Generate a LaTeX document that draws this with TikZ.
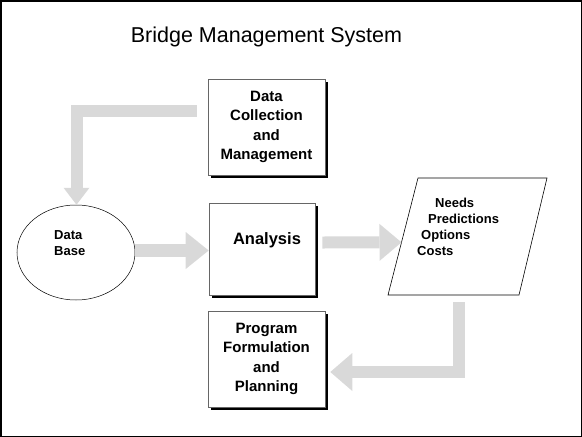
\documentclass[tikz,border=0pt]{standalone}
\usepackage{fontspec}
\setmainfont{Liberation Sans}
\usetikzlibrary{arrows.meta,shadows,shapes.geometric,calc,positioning}
\begin{document}
\begin{tikzpicture}[x=1pt,y=1pt,
  box/.style={draw=black!60,line width=0.6pt,fill=white,minimum width=117,minimum height=96,
    drop shadow={shadow xshift=3pt,shadow yshift=-3pt,fill=black,opacity=1},
    font=\bfseries\fontsize{15}{19.5}\selectfont,align=center},
  barrow/.style={draw=black!15,line width=12pt,line join=miter},
  small/.style={font=\bfseries\fontsize{13}{16}\selectfont,align=left}]
\tikzstyle{every node}+=[inner sep=0pt]
\useasboundingbox (0,0) rectangle (582,-437);
\draw[line width=1.5pt] (0.75,-0.75) rectangle (581.25,-436.25);
\node (title) at (266.5,-37) {\fontsize{21.5}{26}\selectfont Bridge Management System};

\node[box] (dc) at (266.5,-127) {Data\\Collection\\and\\Management};
\node[box,minimum width=106,minimum height=92] (an) at (262,-249) {};
\node[font=\bfseries\fontsize{16.5}{20}\selectfont] (antext) at (267,-240) {Analysis};
\node[box] (pf) at (266.5,-359) {Program\\Formulation\\and\\Planning};

\node[draw,ellipse,line width=0.5pt,minimum width=118,minimum height=95] (db) at (76,-252.5) {};
\node[small,anchor=west] (dbtext) at (54,-243.5) {Data\\Base};

\coordinate (p1) at (388,-295);
\coordinate (p2) at (519,-295);
\coordinate (p3) at (547,-178);
\coordinate (p4) at (418,-178);
\draw[line width=0.6pt] (p1) -- (p2) -- (p3) -- (p4) -- cycle;
\node[small,anchor=west] (out) at (417,-227) {\hspace*{18pt}Needs\\\hspace*{11pt}Predictions\\\hspace*{4pt}Options\\Costs};
\coordinate (pin) at ($(p1)!0.45!(p4)$);
\coordinate (pout) at ($(p1)!0.54!(p2)$);

\draw[barrow,-{Triangle[length=17pt,width=26pt,line width=0pt]}] ([shift={(-11,16)}]dc.west) -| ([xshift=0.5]db.north);
\draw[barrow,line width=13pt,-{Triangle[length=23pt,width=37pt,line width=0pt]}] ([yshift=2]db.east) -- ([yshift=2]db.east -| an.west);
\draw[barrow,-{Triangle[length=22pt,width=37pt,line width=0pt]}] ([shift={(7,6.5)}]an.east) -- (pin);
\draw[barrow,-{Triangle[length=22pt,width=38pt,line width=0pt]}] ([yshift=-7]pout) |- ([shift={(5,-13)}]pf.east);
\end{tikzpicture}
\end{document}
